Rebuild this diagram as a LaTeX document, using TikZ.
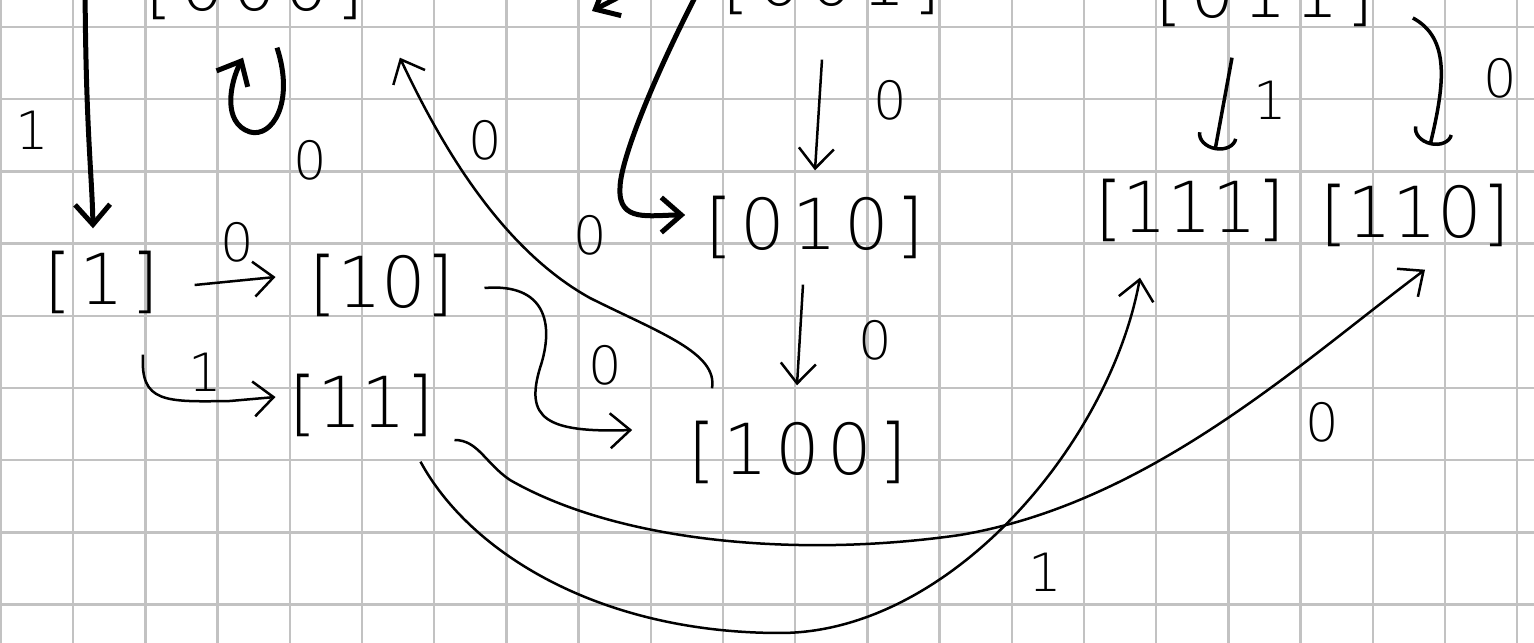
\documentclass[tikz,border=0pt]{standalone}
\usepackage{fontspec}
\usetikzlibrary{arrows.meta,calc}
\newfontfamily\handfont{DejaVu Sans ExtraLight}
\newcommand{\gap}{\hspace{1.5mm}}

\begin{document}
\begin{tikzpicture}[
    x=0.2mm, y=0.2mm,
    gridline/.style={draw=black!24, line width=0.45mm},
    state/.style={inner sep=0pt, font=\handfont\fontsize{40}{40}\selectfont},
    lbl/.style={inner sep=0pt, font=\handfont\fontsize{30}{30}\selectfont},
    edge/.style={line width=0.5mm, -{Straight Barb[length=4mm,width=7mm]}},
    bold edge/.style={edge, line width=1mm},
    scrib/.style={line width=0.7mm, -{Arc Barb[length=3mm,width=8mm]}},
  ]
    \useasboundingbox (0,0) rectangle (1534,643);
    \clip (0,0) rectangle (1534,643);
    \fill[white] (0,0) rectangle (1534,643);

    % --- squared paper
    \foreach \k in {0,...,21} \draw[gridline] (1+72.2*\k, 0) -- (1+72.2*\k, 643);
    \foreach \k in {0,...,8} \draw[gridline] (0, 616-72.2*\k) -- (1534, 616-72.2*\k);

    % --- states (the top row is cut by the page edge)
    \node[state] (st000) at (255,655) {[\gap0\gap0\gap0\gap]};
    \node[state] (st001) at (832,660) {[\gap0\gap0\gap1\gap]};
    \node[state] (st011) at (1265,648) {[\gap0\gap1\gap1\gap]};
    \node[state] (st1)   at (102,361) {[\gap1\gap]};
    \node[state] (st10)  at (382,358) {[10]};
    \node[state] (st11)  at (362,238) {[11]};
    \node[state] (st010) at (815,416) {[\gap0\gap1\gap0\gap]};
    \node[state] (st100) at (798,191) {[\gap1\gap0\gap0\gap]};
    \node[state] (st111) at (1190,433) {[111]};
    \node[state] (st110) at (1415,428) {[110]};

    % --- loose ends coming from above the page
    \coordinate (in1)   at (85,680);
    \coordinate (in101) at (705,665);
    \coordinate (cutA)  at (650,662);
    \coordinate (cutB)  at (592,632);

    % --- transitions
    \draw[bold edge] (in1) .. controls (85,520) and (92,470) .. ($(st1.north)+(-9,22)$);
    \draw[edge] ($(st1.east)+(35,-3)$) -- ($(st10.west)+(-34,8)$);
    \draw[edge] ($(st1.south)+(41,-41)$) .. controls (140,240) and (165,241) .. (230,242)
      -- ($(st11.west)+(-14,8)$);
    \draw[bold edge] ($(st000.south)+(22,-28)$) .. controls (295,540) and (272,505) .. (250,511)
      .. controls (222,520) and (230,560) .. ($(st000.south)+(-12,-38)$);
    \draw[edge] ($(st100.north)+(-86,32)$) .. controls (718,290) and (660,310) .. (590,345)
      .. controls (500,395) and (440,500) .. ($(st000.south east)+(35,-38)$);
    \draw[edge] ($(st10.east)+(30,-3)$) .. controls (545,360) and (555,320) .. (540,275)
      .. controls (525,225) and (545,210) .. ($(st100.west)+(-56,22)$);
    \draw[edge] ($(st001.south)+(-10,-45)$) -- ($(st010.north)+(0,25)$);
    \draw[edge] ($(st010.south)+(-12,-26)$) -- ($(st100.north)+(-1,35)$);
    \draw[bold edge] (in101) .. controls (650,560) and (620,480) .. (620,455)
      .. controls (618,420) and (650,428) .. ($(st010.west)+(-20,12)$);
    \draw[bold edge] (cutA) -- (cutB);
    \draw[scrib] ($(st011.south)+(-33,-31)$) -- ($(st111.north)+(25,28)$);
    \draw[scrib] ($(st011.east)+(38,-23)$) .. controls (1450,605) and (1445,560)
      .. ($(st110.north)+(15,38)$);
    \draw[edge] ($(st11.south east)+(-14,-25)$) .. controls (470,90) and (600,10) .. (780,10)
      .. controls (950,10) and (1110,200) .. ($(st111.south)+(-50,-36)$);
    \draw[edge] ($(st11.east)+(20,-35)$) .. controls (478,203) and (485,180) .. (510,163)
      .. controls (620,100) and (800,85) .. (960,108)
      .. controls (1150,140) and (1300,280) .. ($(st110.south)+(10,-23)$);

    % --- input symbols
    \node[lbl] (l1)  at (32,513)   {1};
    \node[lbl] (l2)  at (237,401)  {0};
    \node[lbl] (l3)  at (205,271)  {1};
    \node[lbl] (l4)  at (310,483)  {0};
    \node[lbl] (l5)  at (485,503)  {0};
    \node[lbl] (l6)  at (605,278)  {0};
    \node[lbl] (l7)  at (890,543)  {0};
    \node[lbl] (l8)  at (875,303)  {0};
    \node[lbl] (l9)  at (590,408)  {0};
    \node[lbl] (l10) at (1270,543) {1};
    \node[lbl] (l11) at (1500,565) {0};
    \node[lbl] (l12) at (1045,71)  {1};
    \node[lbl] (l13) at (1322,221) {0};
\end{tikzpicture}
\end{document}
